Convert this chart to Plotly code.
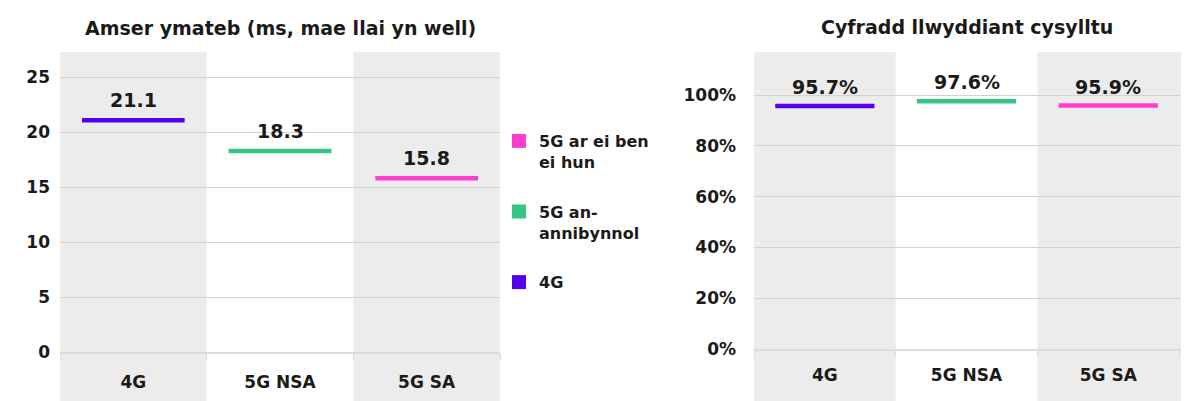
import plotly.graph_objects as go

# ---- data ----
categories = ["4G", "5G NSA", "5G SA"]
response_ms = [21.1, 18.3, 15.8]
success_pct = [95.7, 97.6, 95.9]
series_colors = ["#5500ee", "#34c484", "#ff3dcc"]
legend_names = ["4G", "5G an-<br>annibynnol", "5G ar ei ben<br>ei hun"]
left_title = "Amser ymateb (ms, mae llai yn well)"
right_title = "Cyfradd llwyddiant cysylltu"
left_ticks = [0, 5, 10, 15, 20, 25]
right_ticks = [0, 20, 40, 60, 80, 100]

# ---- style ----
OFF = 8                      # default page body margin
W, H = 1189 - OFF, 401 - OFF

def px(x):
    return (x - OFF) / W

def py(y):
    return 1 - (y - OFF) / H

FONT = "DejaVu Sans"
TXT = "#1a1a1a"
BAND = "#ececec"
GRID = "#d2d2d2"
HALF = 0.35
L_DOM = [px(60), px(500)]
R_DOM = [px(754), 1.0]
L_YDOM = [py(352), py(52)]
R_YDOM = [py(349), py(52)]
L_XR = [-0.5, 2.5]
R_XR = [-0.5, 2.57]

fig = go.Figure()
idx = list(range(len(categories)))

for i, (v, c) in enumerate(zip(response_ms, series_colors)):
    fig.add_trace(go.Scatter(x=[i - HALF, i + HALF], y=[v, v], mode="lines",
                             line=dict(color=c, width=4.5), showlegend=False,
                             xaxis="x", yaxis="y", hoverinfo="skip"))
for i, (v, c) in enumerate(zip(success_pct, series_colors)):
    fig.add_trace(go.Scatter(x=[i - HALF, i + HALF], y=[v, v], mode="lines",
                             line=dict(color=c, width=4.5), showlegend=False,
                             xaxis="x2", yaxis="y2", hoverinfo="skip"))
for name, c in reversed(list(zip(legend_names, series_colors))):
    fig.add_trace(go.Scatter(x=[None], y=[None], mode="markers", name=name,
                             legendgroup=name,
                             marker=dict(symbol="square", size=14, color=c),
                             xaxis="x", yaxis="y"))

shapes = []
for i in idx:
    if i % 2 == 0:
        shapes.append(dict(type="rect", xref="x", yref="paper", x0=i - 0.5, x1=i + 0.5,
                           y0=0, y1=L_YDOM[1], fillcolor=BAND, line_width=0, layer="below"))
        x1 = i + 0.5 if i < len(categories) - 1 else R_XR[1]
        shapes.append(dict(type="rect", xref="x2", yref="paper", x0=i - 0.5, x1=x1,
                           y0=0, y1=R_YDOM[1], fillcolor=BAND, line_width=0, layer="below"))

vfont = dict(size=19, color=TXT, family=FONT, weight=700)
annotations = []
for i, v in enumerate(response_ms):
    annotations.append(dict(x=i, y=v, xref="x", yref="y", text=f"{v:.1f}", showarrow=False,
                            yshift=20, font=vfont))
for i, v in enumerate(success_pct):
    annotations.append(dict(x=i, y=v, xref="x2", yref="y2", text=f"{v:.1f}%", showarrow=False,
                            yshift=19, font=vfont))
tfont = dict(size=19, color=TXT, family=FONT, weight=700)
annotations.append(dict(x=px(280), y=py(28), xref="paper", yref="paper", text=left_title,
                        xanchor="center", yanchor="middle", showarrow=False, font=tfont))
annotations.append(dict(x=px(967), y=py(27), xref="paper", yref="paper", text=right_title,
                        xanchor="center", yanchor="middle", showarrow=False, font=tfont))

tickfont = dict(size=17, color=TXT, family=FONT, weight=700)

def xaxis(dom, rng, anchor, standoff):
    return dict(domain=dom, range=rng, anchor=anchor, tickvals=idx, ticktext=categories,
                ticks="", showgrid=False, zeroline=False, showline=True, linecolor="#dcdcdc",
                linewidth=1.5, tickfont=tickfont, ticklabelstandoff=standoff, fixedrange=True,
                minor=dict(tickvals=[-0.5, 0.5, 1.5, 2.5], ticks="outside", ticklen=6,
                           tickcolor="#dcdcdc", showgrid=False))

fig.update_layout(
    width=W, height=H, margin=dict(l=0, r=0, t=0, b=0, autoexpand=False),
    paper_bgcolor="white", plot_bgcolor="rgba(0,0,0,0)",
    font=dict(family=FONT, color=TXT, weight=700),
    xaxis=xaxis(L_DOM, L_XR, "y", 14),
    xaxis2=xaxis(R_DOM, R_XR, "y2", 10),
    yaxis=dict(domain=L_YDOM, range=[0, 27.3], tickvals=left_ticks, showgrid=True,
               gridcolor=GRID, zeroline=False, tickfont=tickfont, ticks="",
               ticklabelstandoff=9, anchor="x"),
    yaxis2=dict(domain=R_YDOM, range=[0, 117], tickvals=right_ticks,
                ticktext=[f"{t}%" for t in right_ticks],
                showgrid=True, gridcolor=GRID, zeroline=False, tickfont=tickfont, ticks="",
                ticklabelstandoff=17, anchor="x2"),
    shapes=shapes, annotations=annotations,
    showlegend=True,
    legend=dict(x=px(499), y=py(124), xanchor="left", yanchor="top",
                traceorder="grouped", tracegroupgap=26, valign="top",
                font=dict(size=16, color=TXT, family=FONT, weight=700),
                bgcolor="rgba(0,0,0,0)", itemwidth=30),
)

fig.write_html("out.html")
